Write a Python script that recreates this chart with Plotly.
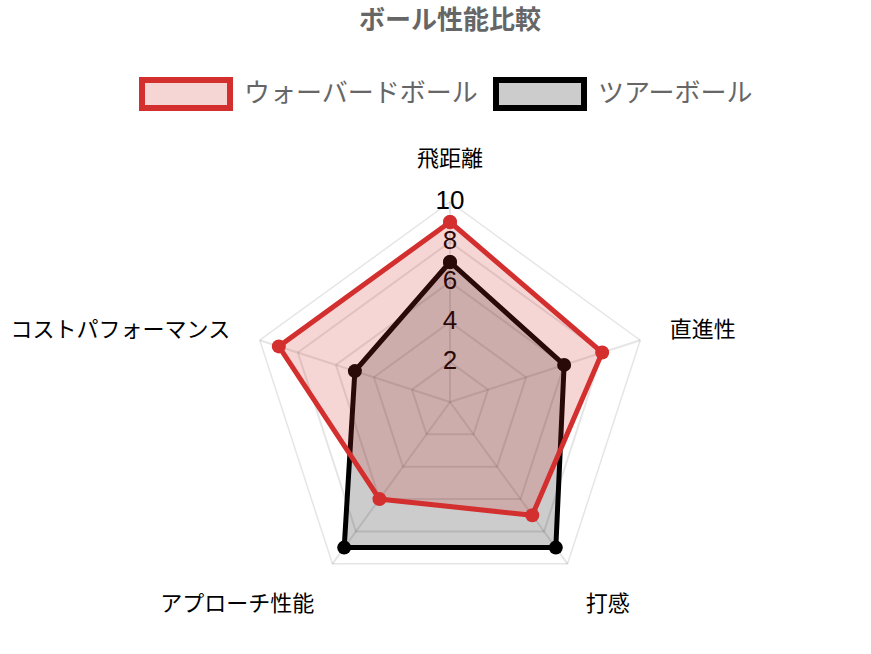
import plotly.graph_objects as go

W, H = 871, 654

# axes of the radar
categories = ['飛距離', '直進性', '打感', 'アプローチ性能', 'コストパフォーマンス']

# scores (0-10)
warbird = [9, 8, 7, 6, 9]
tour = [7, 6, 9, 9, 5]

series_names = ['ウォーバードボール', 'ツアーボール']
tick_vals = [2, 4, 6, 8, 10]

FONT = 'Liberation Sans, Noto Sans CJK JP, sans-serif'
RED = 'rgb(211,47,47)'
RED_FILL = 'rgba(211,47,47,0.2)'
BLACK = 'rgb(0,0,0)'
BLACK_FILL = 'rgba(0,0,0,0.2)'


def px(x):
    return x / W


def py(y):
    return 1 - y / H


def closed(vals):
    return list(vals) + [vals[0]]


fig = go.Figure()

# radial tick labels drawn first so the fills sit over them (like chart.js)
fig.add_trace(go.Scatterpolar(
    r=tick_vals, theta=[categories[0]] * len(tick_vals),
    mode='text', text=[str(v) for v in tick_vals],
    textfont=dict(size=26, color='black', family=FONT),
    hoverinfo='skip', showlegend=False, cliponaxis=False))

fig.add_trace(go.Scatterpolar(
    r=closed(tour), theta=closed(categories), name=series_names[1],
    mode='lines+markers', fill='toself', fillcolor=BLACK_FILL,
    line=dict(color=BLACK, width=5), marker=dict(color=BLACK, size=14),
    showlegend=False, cliponaxis=False))

fig.add_trace(go.Scatterpolar(
    r=closed(warbird), theta=closed(categories), name=series_names[0],
    mode='lines+markers', fill='toself', fillcolor=RED_FILL,
    line=dict(color=RED, width=5), marker=dict(color=RED, size=14),
    showlegend=False, cliponaxis=False))

# chart.js style legend boxes
legend_items = [
    (139, 233, 245, series_names[0], RED, RED_FILL),
    (493, 587, 599, series_names[1], BLACK, BLACK_FILL),
]
shapes = []
annotations = []
for x0, x1, tx, label, lc, fc in legend_items:
    shapes.append(dict(type='rect', xref='paper', yref='paper',
                       x0=px(x0 + 3), x1=px(x1 - 3), y0=py(108), y1=py(80),
                       line=dict(color=lc, width=6), fillcolor=fc, layer='above'))
    annotations.append(dict(text=label, xref='paper', yref='paper',
                            x=px(tx - 3), y=py(93), xanchor='left', yanchor='middle',
                            showarrow=False,
                            font=dict(size=26, color='#666', family=FONT)))

fig.update_layout(
    width=W, height=H,
    margin=dict(l=0, r=0, t=0, b=0),
    paper_bgcolor='white',
    font=dict(family=FONT),
    title=dict(text='<b>ボール性能比較</b>', x=px(450), xanchor='center',
               y=py(20), yanchor='middle', yref='paper',
               font=dict(size=26, color='#666', family=FONT)),
    polar=dict(
        domain=dict(x=[px(250), px(650)], y=[py(602), py(202)]),
        bgcolor='rgba(0,0,0,0)',
        gridshape='linear',
        radialaxis=dict(range=[0, 10], dtick=2, showticklabels=False,
                        showline=False, ticks='',
                        gridcolor='rgba(0,0,0,0.1)', gridwidth=1.5),
        angularaxis=dict(rotation=90, direction='clockwise',
                         categoryorder='array', categoryarray=categories,
                         showline=True, linecolor='rgba(0,0,0,0.1)', linewidth=1.5,
                         gridcolor='rgba(0,0,0,0.1)', gridwidth=1.5,
                         ticks='outside', ticklen=26, tickcolor='rgba(0,0,0,0)',
                         tickfont=dict(size=22, color='black', family=FONT)),
    ),
    shapes=shapes,
    annotations=annotations,
)

# drop the browser's default body margin so the figure sits at (0, 0)
fig.write_html('out.html', config={'displayModeBar': False},
               post_script="document.body.style.margin = '0';")
